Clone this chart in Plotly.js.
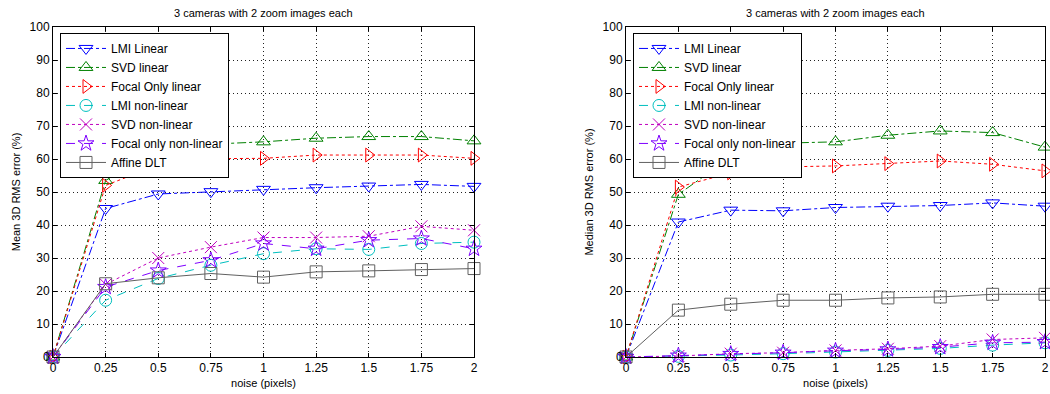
<!DOCTYPE html>
<html>
<head>
<meta charset="utf-8">
<script src="https://cdn.plot.ly/plotly-3.0.1.min.js"></script>
<style>html,body{margin:0;padding:0;background:#fff;}#chart{width:1050px;height:394px;}</style>
</head>
<body>
<div id="chart"></div>
<script>
const noise = [0, 0.25, 0.5, 0.75, 1, 1.25, 1.5, 1.75, 2];
const tickLabels = ["0", "0.25", "0.5", "0.75", "1", "1.25", "1.5", "1.75", "2"];
const seriesNames = ["LMI Linear", "SVD linear", "Focal Only linear", "LMI non-linear", "SVD non-linear", "Focal only non-linear", "Affine DLT"];

// Mean 3D RMS error (%)
const meanLmiLinear    = [0, 45.0, 49.4, 50.1, 50.8, 51.3, 51.8, 52.3, 51.7];
const meanSvdLinear    = [0, 53.5, 62.5, 64.5, 65.2, 66.3, 66.8, 66.8, 65.5];
const meanFocalLinear  = [0, 52.0, 58.2, 60.1, 60.2, 61.2, 61.2, 61.2, 60.2];
const meanLmiNonlin    = [0, 17.2, 23.8, 27.8, 31.3, 32.8, 32.6, 34.4, 34.8];
const meanSvdNonlin    = [0, 22.0, 30.0, 33.3, 36.2, 36.2, 36.6, 39.6, 38.4];
const meanFocalNonlin  = [0, 21.2, 26.2, 29.3, 34.4, 32.8, 35.4, 35.9, 32.8];
const meanAffineDlt    = [0, 22.2, 24.0, 25.3, 24.2, 25.8, 26.1, 26.5, 26.8];

// Median 3D RMS error (%)
const medLmiLinear     = [0, 40.9, 44.5, 44.3, 45.3, 45.7, 45.9, 46.7, 45.7];
const medSvdLinear     = [0, 49.3, 60.5, 64.8, 65.2, 67.2, 68.5, 68.0, 63.6];
const medFocalLinear   = [0, 51.5, 55.8, 57.6, 57.9, 58.6, 59.4, 58.4, 56.4];
const medLmiNonlin     = [0, 0.2, 0.6, 1.0, 1.5, 2.0, 2.6, 3.6, 4.3];
const medSvdNonlin     = [0, 0.3, 1.0, 1.3, 2.0, 2.5, 3.3, 5.3, 5.8];
const medFocalNonlin   = [0, 0.4, 0.9, 1.3, 1.9, 2.3, 3.0, 4.3, 4.5];
const medAffineDlt     = [0, 14.2, 16.0, 17.2, 17.2, 17.9, 18.2, 19.0, 19.0];

const styles = [
  {color: "#0000ff", dash: "dashdot", symbol: "triangle-down-open"},
  {color: "#008000", dash: "dashdot", symbol: "triangle-up-open"},
  {color: "#ff0000", dash: "dot", symbol: "triangle-right-open"},
  {color: "#00bfbf", dash: "dash", symbol: "circle-open"},
  {color: "#bf00bf", dash: "dot", symbol: "x-thin-open"},
  {color: "#7f00ff", dash: "dash", symbol: "star-open"},
  {color: "#606060", dash: "solid", symbol: "square-open"}
];

const meanSeries = [meanLmiLinear, meanSvdLinear, meanFocalLinear, meanLmiNonlin, meanSvdNonlin, meanFocalNonlin, meanAffineDlt];
const medSeries = [medLmiLinear, medSvdLinear, medFocalLinear, medLmiNonlin, medSvdNonlin, medFocalNonlin, medAffineDlt];

function mk(ys, i, xa, ya, leg) {
  const s = styles[i];
  return {
    x: noise, y: ys, name: seriesNames[i], type: "scatter", mode: "lines+markers",
    xaxis: xa, yaxis: ya, legend: leg, cliponaxis: false,
    line: {color: s.color, dash: s.dash, width: 1},
    marker: {symbol: s.symbol, size: 12, color: s.color, line: {color: s.color, width: 1}}
  };
}

const traces = [];
meanSeries.forEach((ys, i) => traces.push(mk(ys, i, "x", "y", "legend")));
medSeries.forEach((ys, i) => traces.push(mk(ys, i, "x2", "y2", "legend2")));

const font = {family: "Liberation Sans, Arial, sans-serif", size: 12, color: "#000"};

function xax(domain, anchor) {
  return {
    domain: domain, anchor: anchor, range: [0, 2], tickvals: noise, ticktext: tickLabels,
    showline: true, mirror: "ticks", linecolor: "#000", linewidth: 1,
    ticks: "inside", ticklen: 4, tickcolor: "#000", ticklabeloverflow: "allow",
    showgrid: true, gridcolor: "#222", griddash: "1px,3px", gridwidth: 1,
    zeroline: false, automargin: false, fixedrange: true,
    tickfont: {family: font.family, size: 12, color: "#000"},
    title: {text: "noise (pixels)", font: {family: font.family, size: 11, color: "#000"}, standoff: 4}
  };
}
function yax(domain, anchor, title) {
  return {
    domain: domain, anchor: anchor, range: [0, 100], dtick: 10, tick0: 0,
    showline: true, mirror: "ticks", linecolor: "#000", linewidth: 1,
    ticks: "inside", ticklen: 4, tickcolor: "#000",
    showgrid: true, gridcolor: "#222", griddash: "1px,3px", gridwidth: 1,
    zeroline: false, automargin: false, fixedrange: true,
    tickfont: {family: font.family, size: 12, color: "#000"},
    title: {text: title, font: {family: font.family, size: 11, color: "#000"}, standoff: 6}
  };
}
function leg(x) {
  return {
    x: x, y: 0.982, xanchor: "left", yanchor: "top", xref: "paper", yref: "paper",
    bgcolor: "#fff", bordercolor: "#000", borderwidth: 1,
    font: {family: font.family, size: 12, color: "#000"},
    itemwidth: 40, tracegroupgap: 0
  };
}

const layout = {
  width: 1050, height: 394, autosize: false,
  margin: {l: 0, r: 0, t: 27, b: 37},
  paper_bgcolor: "#fff", plot_bgcolor: "#fff",
  font: font, showlegend: true,
  xaxis: xax([53/1050, 474/1050], "y"),
  yaxis: yax([0, 1], "x", "Mean 3D RMS error (%)"),
  xaxis2: xax([626/1050, 1045/1050], "y2"),
  yaxis2: yax([0, 1], "x2", "Median 3D RMS error (%)"),
  legend: leg(60/1050),
  legend2: leg(633/1050),
  annotations: [
    {text: "3 cameras with 2 zoom images each", xref: "paper", yref: "paper", x: (53+474)/2/1050, y: 1.042, xanchor: "center", yanchor: "middle", showarrow: false, font: {family: font.family, size: 11, color: "#000"}},
    {text: "3 cameras with 2 zoom images each", xref: "paper", yref: "paper", x: (626+1045)/2/1050, y: 1.042, xanchor: "center", yanchor: "middle", showarrow: false, font: {family: font.family, size: 11, color: "#000"}}
  ]
};

Plotly.newPlot("chart", traces, layout, {displayModeBar: false, staticPlot: true});
</script>
</body>
</html>
